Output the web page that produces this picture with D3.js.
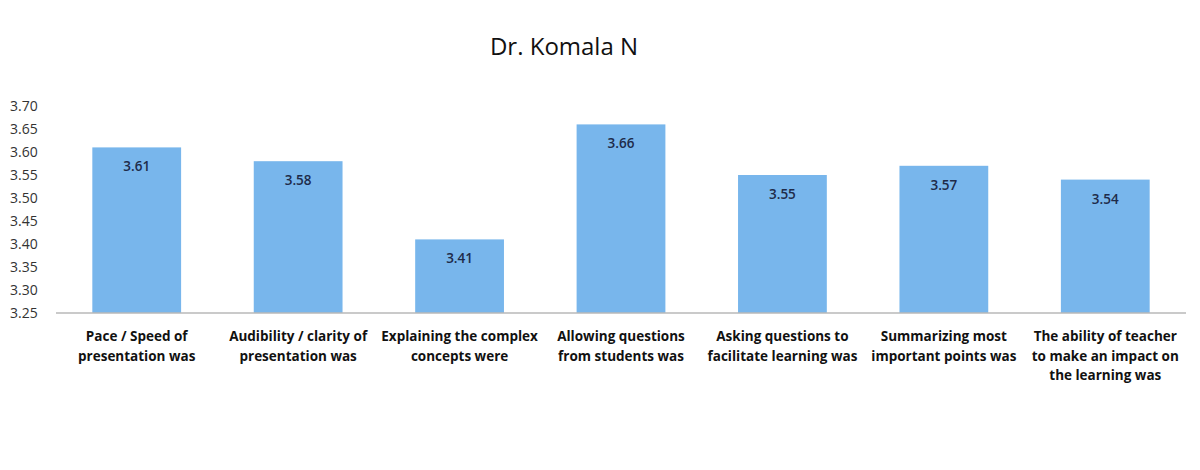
<!DOCTYPE html>
<html>
<head>
<meta charset="utf-8">
<script src="https://cdn.jsdelivr.net/npm/d3@7"></script>
<style>
  body { margin: 0; background: #fff; }
  svg { display: block; }
</style>
</head>
<body>
<svg id="chart" width="1200" height="470"></svg>
<script>
const categories = [
    ["Pace / Speed of", "presentation was"],
    ["Audibility / clarity of", "presentation was"],
    ["Explaining the complex", "concepts were"],
    ["Allowing questions", "from students was"],
    ["Asking questions to", "facilitate learning was"],
    ["Summarizing most", "important points was"],
    ["The ability of teacher", "to make an impact on", "the learning was"]
]
const scores = [3.61, 3.58, 3.41, 3.66, 3.55, 3.57, 3.54]
const yTicks = [3.25, 3.30, 3.35, 3.40, 3.45, 3.50, 3.55, 3.60, 3.65, 3.70]
const title = "Dr. Komala N"

const svg = d3.select("#chart")
const font = "'Open Sans', sans-serif"

let x = d3.scaleBand()
    .domain(d3.range(categories.length))
    .range([56, 1186])
    .paddingInner(0.45)
    .paddingOuter(0.225)

let y = d3.scaleLinear()
    .domain([3.25, 3.70])
    .range([313, 106])

svg.append("text")
    .attr("x", 564)
    .attr("y", 55)
    .attr("text-anchor", "middle")
    .style("font", `24px ${font}`)
    .style("fill", "#111")
    .text(title)

// y axis, labels only
const yAxis = svg.append("g")
    .attr("transform", "translate(10, 0)")
    .call(d3.axisRight(y).tickValues(yTicks).tickFormat(d3.format(".2f")).tickSize(0))
yAxis.select(".domain").remove()
yAxis.selectAll("text")
    .attr("x", 0)
    .style("font", `14px ${font}`)
    .style("fill", "#333")

svg.append("g").selectAll(".bar")
    .data(scores)
    .enter().append("rect")
    .attr("class", "bar")
    .attr("x", (d, i) => x(i))
    .attr("y", d => y(d))
    .attr("width", x.bandwidth())
    .attr("height", d => y(3.25) - y(d))
    .style("fill", "#78b6ec")

svg.append("g").selectAll(".val")
    .data(scores)
    .enter().append("text")
    .attr("class", "val")
    .attr("x", (d, i) => x(i) + x.bandwidth() / 2)
    .attr("y", d => y(d) + 24)
    .attr("text-anchor", "middle")
    .style("font", `600 13.5px ${font}`)
    .style("fill", "#1e2b4a")
    .text(d => d.toFixed(2))

// baseline
svg.append("line")
    .attr("x1", 56).attr("x2", 1186)
    .attr("y1", y(3.25)).attr("y2", y(3.25))
    .style("stroke", "#b8b8b8")
    .style("stroke-width", 1.5)

const labels = svg.append("g").selectAll(".cat")
    .data(categories)
    .enter().append("text")
    .attr("class", "cat")
    .attr("text-anchor", "middle")
    .style("font", `bold 13.5px ${font}`)
    .style("fill", "#111")

labels.selectAll("tspan")
    .data((d, i) => d.map(line => ({ line, i })))
    .enter().append("tspan")
    .attr("x", d => x(d.i) + x.bandwidth() / 2)
    .attr("y", (d, j) => 341 + j * 19.5)
    .text(d => d.line)
</script>
</body>
</html>
